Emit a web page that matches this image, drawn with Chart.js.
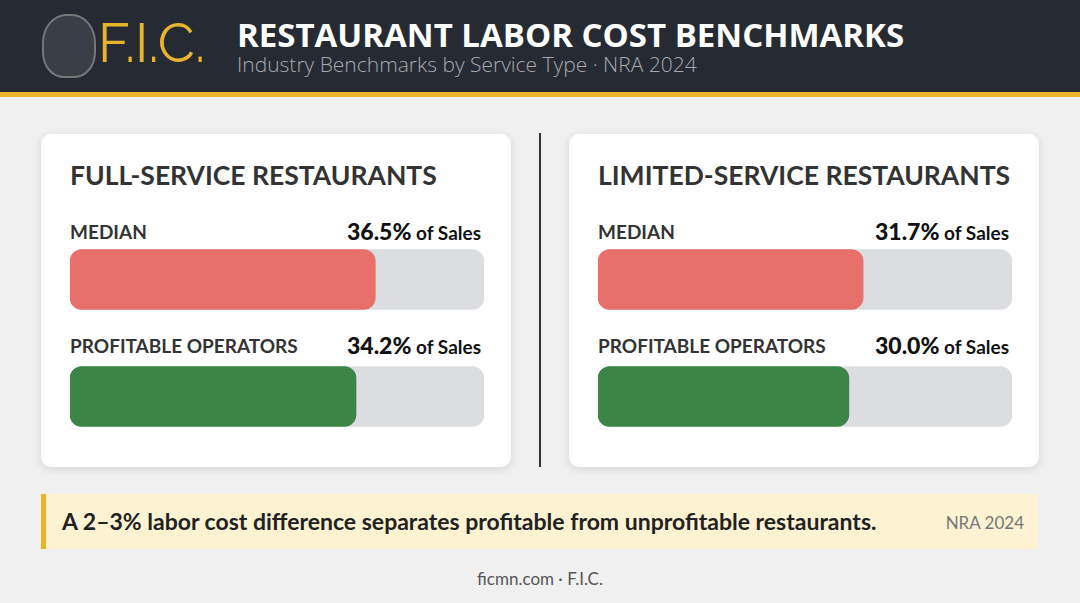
<!DOCTYPE html>
<html>
<head>
<meta charset="utf-8">
<script src="https://cdn.jsdelivr.net/npm/chart.js@4"></script>
<style>
  body { margin:0; width:1080px; height:603px; background:#f0f0f1; font-family:Lato, "Open Sans", sans-serif; position:relative; overflow:hidden; }
  .hdr { position:absolute; left:0; top:0; width:1080px; height:92px; background:#262b33; border-bottom:5px solid #e9b42c; }
  .logo { position:absolute; left:42px; top:14px; width:50px; height:60px; border-radius:45% 45% 40% 40%; border:2px solid #777; background:#3a3f47; }
  .fic { position:absolute; left:98px; top:11px; color:#e9b42c; font-size:54px; font-family:Raleway, "Open Sans", sans-serif; }
  .title { position:absolute; left:237px; top:12px; color:#fff; font-size:33px; font-weight:bold; font-family:"Open Sans", sans-serif; }
  .sub { position:absolute; left:237px; top:50px; color:#a6a9ad; font-size:21px; font-family:"Open Sans", sans-serif; font-weight:300; }
  .card { position:absolute; top:134px; width:470px; height:333px; background:#fff; border-radius:10px; box-shadow:0 2px 8px rgba(0,0,0,0.12); }
  .ct { position:absolute; left:29px; top:25px; font-size:26.5px; font-weight:bold; color:#333; }
  .lbl { position:absolute; left:29px; font-size:19px; font-weight:bold; color:#333; }
  .val { position:absolute; right:30px; font-size:19px; font-weight:bold; color:#111; }
  .val b { font-size:23px; }
  .cv { position:absolute; left:29px; top:87px; width:414px; height:234px; }
  .div { position:absolute; left:539px; top:133px; width:2px; height:334px; background:#333; }
  .note { position:absolute; left:41px; top:494px; width:992px; height:55px; background:#fdf3d2; border-left:5px solid #e9b42c; }
  .note span { position:absolute; left:16px; top:13px; font-size:23px; font-weight:bold; color:#222; }
  .note i { position:absolute; right:14px; top:18px; font-style:normal; font-size:17px; color:#777; }
  .foot { position:absolute; top:568px; width:1080px; text-align:center; font-size:17px; color:#555; }
</style>
</head>
<body>
<div class="hdr">
  <div class="logo"></div>
  <div class="fic">F.I.C.</div>
  <div class="title">RESTAURANT LABOR COST BENCHMARKS</div>
  <div class="sub">Industry Benchmarks by Service Type · NRA 2024</div>
</div>
<div class="card" style="left:41px">
  <div class="ct">FULL-SERVICE RESTAURANTS</div>
  <div class="lbl" style="top:86px">MEDIAN</div>
  <div class="val" style="top:83px" id="v0a"></div>
  <div class="lbl" style="top:200px">PROFITABLE OPERATORS</div>
  <div class="val" style="top:197px" id="v0b"></div>
  <div class="cv"><canvas id="c0"></canvas></div>
</div>
<div class="div"></div>
<div class="card" style="left:569px">
  <div class="ct">LIMITED-SERVICE RESTAURANTS</div>
  <div class="lbl" style="top:86px">MEDIAN</div>
  <div class="val" style="top:83px" id="v1a"></div>
  <div class="lbl" style="top:200px">PROFITABLE OPERATORS</div>
  <div class="val" style="top:197px" id="v1b"></div>
  <div class="cv"><canvas id="c1"></canvas></div>
</div>
<div class="note"><span>A 2–3% labor cost difference separates profitable from unprofitable restaurants.</span><i>NRA 2024</i></div>
<div class="foot">ficmn.com · F.I.C.</div>
<script>
const categories = ["Median", "Profitable Operators"];
const fullService = [36.5, 34.2];
const limitedService = [31.7, 30.0];
const scaleMax = 49.5;
const barColors = ["#e8706b", "#3d8547"];

function drawCard(id, values, prefix) {
  document.getElementById(prefix + "a").innerHTML = "<b>" + values[0].toFixed(1) + "%</b> of Sales";
  document.getElementById(prefix + "b").innerHTML = "<b>" + values[1].toFixed(1) + "%</b> of Sales";
  new Chart(document.getElementById(id), {
    type: "bar",
    data: {
      labels: categories,
      datasets: [
        { data: values, backgroundColor: barColors, barThickness: 60, borderRadius: 12, borderSkipped: false, order: 0 },
        { data: values.map(() => scaleMax), backgroundColor: "#dcdde0", barThickness: 60, borderRadius: 12, borderSkipped: false, order: 1 },
      ],
    },
    options: {
      indexAxis: "y",
      responsive: true,
      maintainAspectRatio: false,
      animation: false,
      layout: { padding: 0 },
      datasets: { bar: { grouped: false } },
      scales: {
        x: { display: false, min: 0, max: scaleMax },
        y: { display: false },
      },
      plugins: { legend: { display: false }, tooltip: { enabled: false } },
    },
  });
}
drawCard("c0", fullService, "v0");
drawCard("c1", limitedService, "v1");
</script>
</body>
</html>
